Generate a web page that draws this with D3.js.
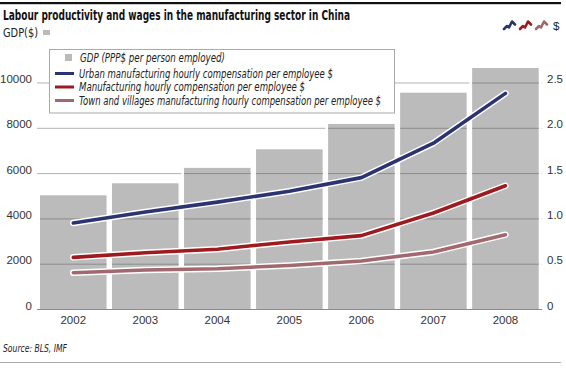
<!DOCTYPE html>
<html>
<head>
<meta charset="utf-8">
<script src="https://cdn.jsdelivr.net/npm/d3@7"></script>
<style>
  html, body { margin: 0; padding: 0; background: #fff; }
  svg { display: block; }
  .narrow { font-family: "Liberation Sans Narrow", "DejaVu Sans Condensed", "Liberation Sans", sans-serif; }
  .reg { font-family: "Liberation Sans", "Open Sans", sans-serif; }
</style>
</head>
<body>
<svg id="chart" width="566" height="369"></svg>
<script>
// ---- data ----
const years = ["2002", "2003", "2004", "2005", "2006", "2007", "2008"];
const gdp = [5020, 5550, 6230, 7050, 8170, 9550, 10640];
const urban = [0.95, 1.07, 1.18, 1.30, 1.45, 1.83, 2.38];
const manufacturing = [0.57, 0.62, 0.66, 0.74, 0.81, 1.06, 1.36];
const town = [0.40, 0.43, 0.445, 0.48, 0.53, 0.63, 0.82];
const leftTicks = [0, 2000, 4000, 6000, 8000, 10000];
const rightTicks = [0, 0.5, 1.0, 1.5, 2.0, 2.5];
const rightTickLabels = ["0", "0.5", "1.0", "1.5", "2.0", "2.5"];
const seriesNames = [
  "Urban manufacturing hourly compensation per employee $",
  "Manufacturing hourly compensation per employee $",
  "Town and villages manufacturing hourly compensation per employee $"
];
const gdpName = "GDP (PPP$ per person employed)";
const titleText = "Labour productivity and wages in the manufacturing sector in China";
const leftUnit = "GDP($)";
const rightUnit = "$";
const sourceText = "Source: BLS, IMF";

// ---- styles ----
const barColor = "#bbbbbb";
const lineColors = ["#2b3470", "#9e1a1e", "#a1686e"];
const legendTextWidths = [254, 226, 302];

const svg = d3.select("#chart");

// scales
const x = d3.scaleBand().domain(years).range([40, 538.7]).paddingInner(0.076).paddingOuter(0);
const yL = d3.scaleLinear().domain([0, 10000]).range([309, 82.5]);
const yR = d3.scaleLinear().domain([0, 2.5]).range([309, 82.5]);

// top rule
svg.append("rect").attr("x", 0).attr("y", 2).attr("width", 561).attr("height", 2.2).attr("fill", "#111");

// title
svg.append("text").attr("class", "narrow").attr("x", 3).attr("y", 19.5)
  .attr("font-size", 14).attr("font-weight", "bold").attr("fill", "#111")
  .attr("textLength", 347).attr("lengthAdjust", "spacingAndGlyphs")
  .text(titleText);

// GDP($) unit label
svg.append("text").attr("class", "narrow").attr("x", 3).attr("y", 36.5)
  .attr("font-size", 12.5).attr("fill", "#222")
  .attr("textLength", 35).attr("lengthAdjust", "spacingAndGlyphs")
  .text(leftUnit);
svg.append("rect").attr("x", 43).attr("y", 30).attr("width", 7).attr("height", 5).attr("fill", barColor);

// top right icons
const iconPts = [[0, 8], [3, 5], [5, 6.5], [8, 0.5], [11, 3.5]];
const iconLine = d3.line();
lineColors.forEach((c, i) => {
  svg.append("path")
    .attr("transform", `translate(${504 + i * 16},21)`)
    .attr("d", iconLine(iconPts))
    .attr("fill", "none").attr("stroke", c).attr("stroke-width", 2.6)
    .attr("stroke-linejoin", "round").attr("stroke-linecap", "round");
});
svg.append("text").attr("class", "reg").attr("x", 553).attr("y", 30)
  .attr("font-size", 11.5).attr("fill", "#222").text(rightUnit);

// gridlines (light, full width)
const grid = svg.append("g");
grid.selectAll("line").data(leftTicks).join("line")
  .attr("x1", 37).attr("x2", 542)
  .attr("y1", d => yL(d) + 0.5).attr("y2", d => yL(d) + 0.5)
  .attr("stroke", d => d === 0 ? "#8a8a8a" : "#b3b3b3").attr("stroke-width", 1);

// white backing behind bars (hides gridlines in the gaps)
const gap = x.step() - x.bandwidth();
svg.append("g").selectAll("rect").data(years).join("rect")
  .attr("x", d => x(d) - gap / 2).attr("width", x.bandwidth() + gap)
  .attr("y", (d, i) => yL(gdp[i])).attr("height", (d, i) => yL(0) - yL(gdp[i]))
  .attr("fill", "#fff");

// bars
svg.append("g").selectAll("rect").data(years).join("rect")
  .attr("x", d => x(d)).attr("width", x.bandwidth())
  .attr("y", (d, i) => yL(gdp[i])).attr("height", (d, i) => yL(0) - yL(gdp[i]))
  .attr("fill", barColor);

// gridlines over bars (darker), clipped to bars
const clip = svg.append("clipPath").attr("id", "barclip");
clip.selectAll("rect").data(years).join("rect")
  .attr("x", d => x(d)).attr("width", x.bandwidth())
  .attr("y", (d, i) => yL(gdp[i])).attr("height", (d, i) => yL(0) - yL(gdp[i]));
svg.append("g").attr("clip-path", "url(#barclip)")
  .selectAll("line").data(leftTicks.filter(d => d > 0)).join("line")
  .attr("x1", 37).attr("x2", 542)
  .attr("y1", d => yL(d) + 0.5).attr("y2", d => yL(d) + 0.5)
  .attr("stroke", "#8c8c8c").attr("stroke-width", 1);

// baseline
svg.append("line").attr("x1", 37).attr("x2", 542).attr("y1", yL(0) + 0.5).attr("y2", yL(0) + 0.5)
  .attr("stroke", "#8a8a8a").attr("stroke-width", 1);

// left axis labels
svg.append("g").selectAll("text").data(leftTicks).join("text")
  .attr("class", "reg").attr("x", 32).attr("y", d => yL(d) + 0.5)
  .attr("text-anchor", "end").attr("font-size", 11.5).attr("fill", "#333")
  .text(d => String(d));

// right axis labels
svg.append("g").selectAll("text").data(rightTicks).join("text")
  .attr("class", "reg").attr("x", 547).attr("y", d => yR(d) + 0.5)
  .attr("text-anchor", "start").attr("font-size", 11.5).attr("fill", "#333")
  .text((d, i) => rightTickLabels[i]);

// x labels
svg.append("g").selectAll("text").data(years).join("text")
  .attr("class", "reg").attr("x", d => x(d) + x.bandwidth() / 2).attr("y", 323.5)
  .attr("text-anchor", "middle").attr("font-size", 11.5).attr("fill", "#333")
  .text(d => d);

// lines
const line = d3.line().x((d, i) => x(years[i]) + x.bandwidth() / 2).y(d => yR(d));
const allSeries = [town, manufacturing, urban];
const allColors = [lineColors[2], lineColors[1], lineColors[0]];
allSeries.forEach((s, k) => {
  svg.append("path").attr("d", line(s)).attr("fill", "none")
    .attr("stroke", "#fff").attr("stroke-width", 6.5)
    .attr("stroke-linecap", "round").attr("stroke-linejoin", "round");
  svg.append("path").attr("d", line(s)).attr("fill", "none")
    .attr("stroke", allColors[k]).attr("stroke-width", 3.6)
    .attr("stroke-linecap", "round").attr("stroke-linejoin", "round");
});

// legend
const lg = svg.append("g");
lg.append("rect").attr("x", 49.5).attr("y", 49.5).attr("width", 345).attr("height", 63.5)
  .attr("fill", "#fff").attr("stroke", "#aaa").attr("stroke-width", 1);
lg.append("rect").attr("x", 65).attr("y", 54).attr("width", 7).attr("height", 7).attr("fill", barColor);
lg.append("text").attr("class", "narrow").attr("x", 80).attr("y", 62)
  .attr("font-size", 11.5).attr("font-style", "italic").attr("fill", "#222")
  .attr("textLength", 145).attr("lengthAdjust", "spacingAndGlyphs")
  .text(gdpName);
const rowY = [77.5, 91, 104.5];
seriesNames.forEach((nm, i) => {
  lg.append("line").attr("x1", 55).attr("x2", 74).attr("y1", rowY[i] - 4).attr("y2", rowY[i] - 4)
    .attr("stroke", lineColors[i]).attr("stroke-width", 3);
  lg.append("text").attr("class", "narrow").attr("x", 79).attr("y", rowY[i])
    .attr("font-size", 11.5).attr("font-style", "italic").attr("fill", "#222")
    .attr("textLength", legendTextWidths[i]).attr("lengthAdjust", "spacingAndGlyphs")
    .text(nm);
});

// source
svg.append("text").attr("class", "narrow").attr("x", 3).attr("y", 351.5)
  .attr("font-size", 11).attr("font-style", "italic").attr("fill", "#222")
  .attr("textLength", 64).attr("lengthAdjust", "spacingAndGlyphs")
  .text(sourceText);
svg.append("line").attr("x1", 0).attr("x2", 561).attr("y1", 362.5).attr("y2", 362.5)
  .attr("stroke", "#aaa").attr("stroke-width", 1);
</script>
</body>
</html>
